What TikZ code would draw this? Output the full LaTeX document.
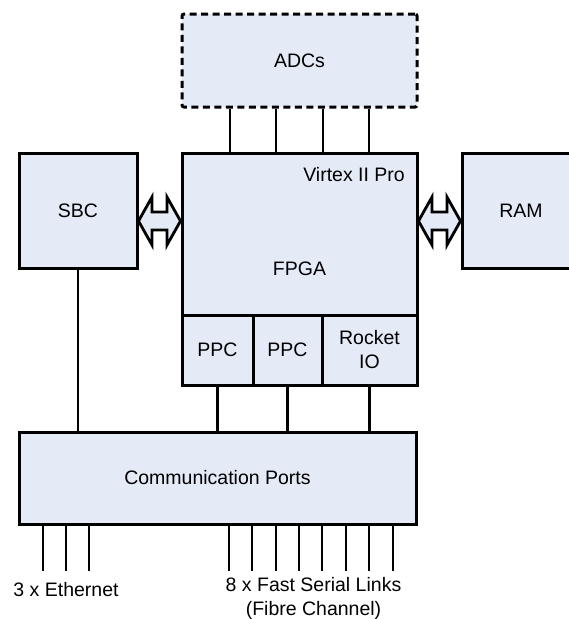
\documentclass[tikz,border=0pt]{standalone}
\usepackage{fontspec}
\setmainfont{Liberation Sans}
\usetikzlibrary{positioning,calc}
\definecolor{boxfill}{RGB}{228,235,247}

\begin{document}
\begin{tikzpicture}[x=1pt,y=-1pt]
            \tikzstyle{block}=[rectangle, draw = black, fill = boxfill, line width = 3pt, inner sep=2pt, align=center, font=\fontsize{19.5}{24}\selectfont]
            \tikzstyle{adcbox}=[block, dash pattern = on 7pt off 4.5pt, rounded corners = 2pt]
            \tikzstyle{bus}=[draw = black, fill = boxfill, line width = 2.8pt, line join = miter]
            \tikzstyle{connect}=[line width = 2.8pt]
            \tikzstyle{caption}=[inner sep=0pt, align=center, font=\fontsize{19.5}{24}\selectfont]
            \useasboundingbox (0,0) rectangle (569,619);
            \clip (0,0) rectangle (569,619);

            \node[adcbox, minimum width = 235, minimum height = 93] (ADC) at (299.5,60.5){ADCs};
            \node[block, minimum width = 118, minimum height = 115] (SBC) at (78,210.5){SBC};
            \node[block, minimum width = 118, minimum height = 115] (RAM) at (521,210.5){RAM};
            \node[block, minimum width = 235, minimum height = 232] (FPGA) at (299.5,269){FPGA};
            \node[caption, anchor = north east] (VTX) at (405,167){Virtex II Pro};

            \node[block, minimum width = 71, minimum height = 70] (PPC1) at (217.5,350){PPC};
            \node[block, minimum width = 69, minimum height = 70] (PPC2) at (287.5,350){PPC};
            \node[block, minimum width = 95, minimum height = 70] (RIO) at (369.5,350){Rocket\\IO};

            \node[block, minimum width = 397, minimum height = 92] (COM) at (217.5,478){Communication Ports};

            \coordinate (LE) at (0,571);
            \node[caption, anchor = north] (ETH) at (66,582){3 x Ethernet};
            \node[caption, anchor = north] (SER) at (313.5,577){8 x Fast Serial Links\\(Fibre Channel)};

            % double bus arrows between the boxes
            \draw[bus] (SBC.east |- 0,221) -- ++(13.5,-24) -- ++(0,15)
                -- ($(FPGA.west |- 0,221)+(-13.5,-9)$) -- ++(0,-15) -- (FPGA.west |- 0,221)
                -- ++(-13.5,24) -- ++(0,-15) -- ($(SBC.east |- 0,221)+(13.5,9)$) -- ++(0,15) -- cycle;
            \draw[bus] (FPGA.east |- 0,221) -- ++(13.5,-24) -- ++(0,15)
                -- ($(RAM.west |- 0,221)+(-13.5,-9)$) -- ++(0,-15) -- (RAM.west |- 0,221)
                -- ++(-13.5,24) -- ++(0,-15) -- ($(FPGA.east |- 0,221)+(13.5,9)$) -- ++(0,15) -- cycle;

            \foreach \x in {230,276,323,369}
                \path[-] (\x,0 |- ADC.south) edge [connect] (\x,0 |- FPGA.north);
            \path[-] (SBC.south) edge [connect] (SBC.south |- COM.north);
            \path[-] (PPC1.south) edge [connect] (PPC1.south |- COM.north);
            \path[-] (PPC2.south) edge [connect] (PPC2.south |- COM.north);
            \path[-] (RIO.south) edge [connect] (RIO.south |- COM.north);
            \foreach \x in {43,66,89}
                \path[-] (\x,0 |- COM.south) edge [connect] (\x,0 |- LE);
            \foreach \x in {229,252,276,299,322,346,369,393}
                \path[-] (\x,0 |- COM.south) edge [connect] (\x,0 |- LE);

        \end{tikzpicture}
\end{document}
